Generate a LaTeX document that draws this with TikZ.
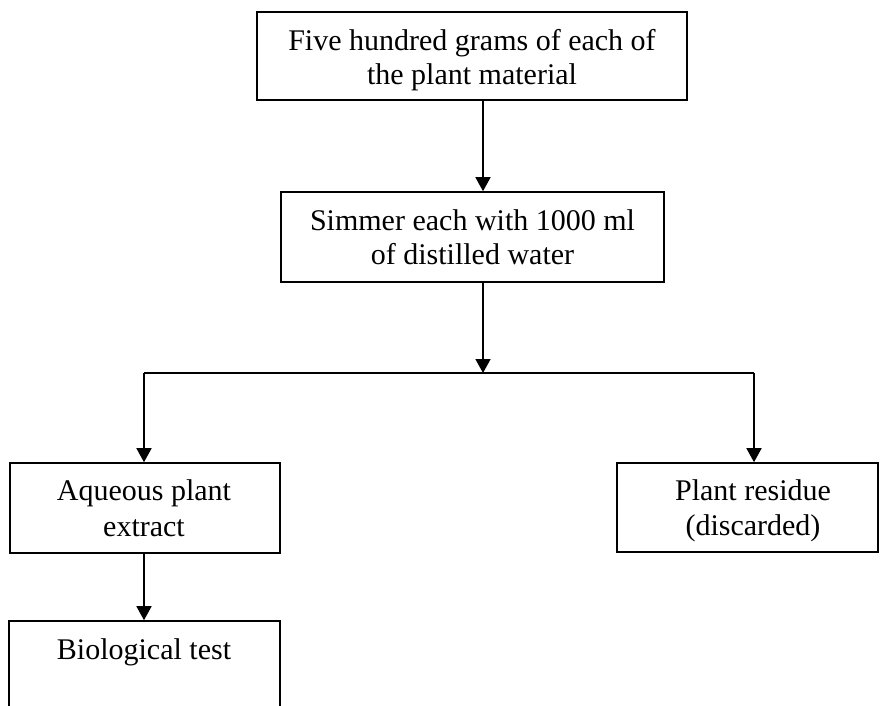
\documentclass[tikz,border=0pt]{standalone}
\usepackage{fontspec}
\setmainfont{Liberation Serif}
\usetikzlibrary{arrows.meta}
\begin{document}
\begin{tikzpicture}[x=1pt,y=-1pt,
  box/.style={draw,line width=1.6pt,inner sep=0pt},
  lbl/.style={font=\fontsize{30}{35}\selectfont,anchor=base,inner sep=0pt},
  conn/.style={line width=1.6pt,-{Triangle[length=14pt,width=15pt]}},
  seg/.style={line width=1.6pt}]
\useasboundingbox (0,0) rectangle (881,706);
\clip (0,0) rectangle (881,706);
% boxes
\node[box,minimum width=430pt,minimum height=88pt] (b1) at (472,56) {};
\node[lbl] at (472,51) {Five hundred grams of each of};
\node[lbl] at (472,85) {the plant material};
\node[box,minimum width=383pt,minimum height=90pt] (b2) at (472.5,237) {};
\node[lbl] at (472.5,230) {Simmer each with 1000 ml};
\node[lbl] at (472.5,264) {of distilled water};
\node[box,minimum width=270pt,minimum height=90pt] (b3) at (145,508) {};
\node[lbl] at (144,500) {Aqueous plant};
\node[lbl] at (144,536) {extract};
\node[box,minimum width=261pt,minimum height=89pt] (b4) at (747.5,507.5) {};
\node[lbl] at (753,500) {Plant residue};
\node[lbl] at (753,535) {(discarded)};
\node[box,minimum width=271pt,minimum height=120pt] (b5) at (144.5,681) {};
\node[lbl] at (144,659) {Biological test};
% connectors
\coordinate (s1) at (483,100);
\coordinate (s2) at (483,282);
\coordinate (j) at (483,373);
\coordinate (jl) at (144,373);
\coordinate (jr) at (754,373);
\draw[conn] (s1) -- (s1 |- b2.north);
\draw[conn] (s2) -- (j);
\draw[seg] (jl) -- (jr);
\draw[conn] (jl) -- (jl |- b3.north);
\draw[conn] (jr) -- (jr |- b4.north);
\draw[conn] (jl |- b3.south) -- (jl |- b5.north);
\end{tikzpicture}
\end{document}
